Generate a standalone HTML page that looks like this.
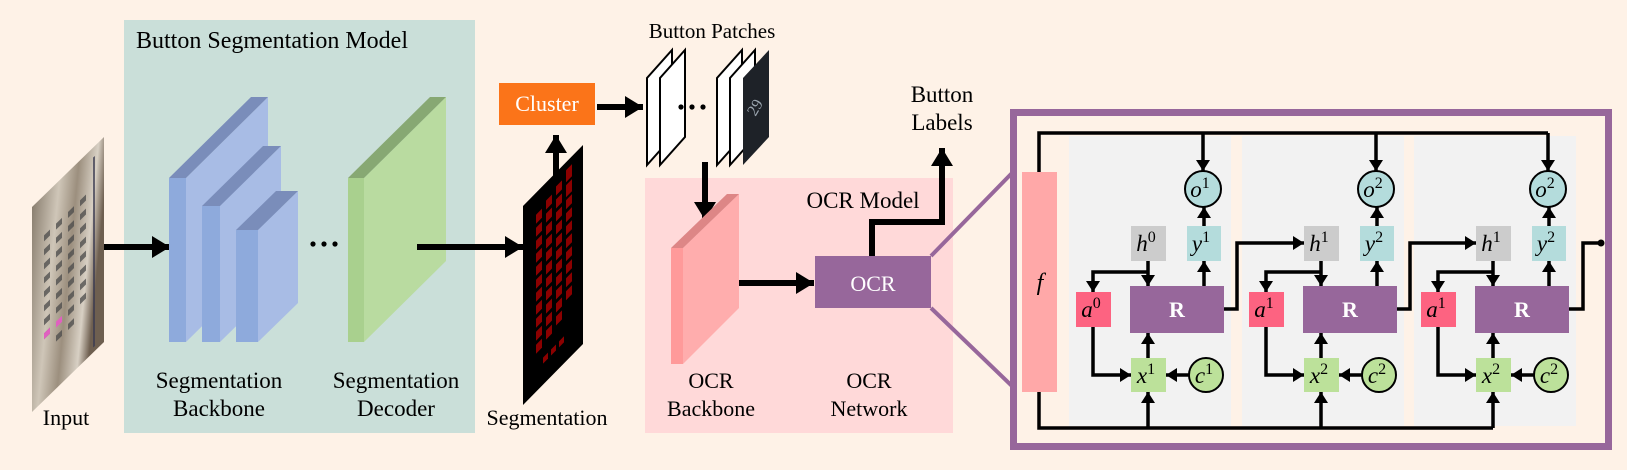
<!DOCTYPE html>
<html><head><meta charset="utf-8"><style>
html,body{margin:0;padding:0;background:#fef2e7;}
svg{display:block;}
text{font-family:"Liberation Serif","DejaVu Serif",serif;}
</style></head><body>
<svg width="1627" height="470" viewBox="0 0 1627 470" xmlns="http://www.w3.org/2000/svg" font-family="'Liberation Serif', 'DejaVu Serif', serif">
<defs>
<marker id="big" markerUnits="userSpaceOnUse" markerWidth="20" markerHeight="22" refX="18" refY="11" orient="auto"><path d="M0,0 L18,11 L0,22 z" fill="#000"/></marker>
<marker id="sm" markerUnits="userSpaceOnUse" markerWidth="12" markerHeight="14" refX="11" refY="7" orient="auto"><path d="M0,0 L11,7 L0,14 z" fill="#000"/></marker>
<linearGradient id="steel" x1="0" y1="0" x2="1" y2="0.3">
<stop offset="0" stop-color="#8a7f70"/><stop offset="0.35" stop-color="#cfc6b8"/><stop offset="0.6" stop-color="#9c8f7e"/><stop offset="0.85" stop-color="#d8d0c4"/><stop offset="1" stop-color="#6e5f50"/></linearGradient>
</defs>
<rect width="1627" height="470" fill="#fef2e7"/>

<rect x="124" y="20" width="351" height="413" fill="#cadfd9"/>
<text x="136" y="48" font-size="24">Button Segmentation Model</text>

<g transform="matrix(1,-0.972,0,1,32,207)">
<rect x="0" y="0" width="72" height="205" fill="url(#steel)"/>
<g fill="#4a4a4a" opacity="0.75">
<rect x="12" y="40" width="6" height="6"/><rect x="24" y="40" width="6" height="6"/><rect x="36" y="40" width="6" height="6"/><rect x="48" y="40" width="6" height="6"/>
<rect x="12" y="54" width="6" height="6"/><rect x="24" y="54" width="6" height="6"/><rect x="36" y="54" width="6" height="6"/><rect x="48" y="54" width="6" height="6"/>
<rect x="12" y="68" width="6" height="6"/><rect x="24" y="68" width="6" height="6"/><rect x="36" y="68" width="6" height="6"/><rect x="48" y="68" width="6" height="6"/>
<rect x="12" y="82" width="6" height="6"/><rect x="24" y="82" width="6" height="6"/><rect x="36" y="82" width="6" height="6"/><rect x="48" y="82" width="6" height="6"/>
<rect x="12" y="96" width="6" height="6"/><rect x="24" y="96" width="6" height="6"/><rect x="36" y="96" width="6" height="6"/><rect x="48" y="96" width="6" height="6"/>
<rect x="12" y="110" width="6" height="6"/><rect x="24" y="110" width="6" height="6"/><rect x="36" y="110" width="6" height="6"/><rect x="48" y="110" width="6" height="6"/>
<rect x="12" y="124" width="6" height="6"/><rect x="24" y="124" width="6" height="6"/><rect x="36" y="124" width="6" height="6"/><rect x="48" y="124" width="6" height="6"/>
<rect x="12" y="138" width="6" height="6"/><rect x="36" y="138" width="6" height="6"/><rect x="48" y="138" width="6" height="6"/>
<rect x="24" y="152" width="6" height="6"/><rect x="36" y="152" width="6" height="6"/>
</g>
<rect x="12" y="138" width="6" height="6" fill="#e060c0"/><rect x="24" y="138" width="6" height="6" fill="#e060c0"/>
<line x1="62" y1="10" x2="62" y2="200" stroke="#3a3a50" stroke-width="1.5"/>
</g>
<text x="66" y="425" font-size="22" text-anchor="middle">Input</text>
<line x1="104" y1="247" x2="170" y2="247" stroke="#000" stroke-width="6" marker-end="url(#big)"/>

<g>
<polygon points="186,178 268,97 268,261 186,342" fill="#a8bce5"/>
<polygon points="169,178 251,97 268,97 186,178" fill="#7a8dba"/>
<rect x="169" y="178" width="17" height="164" fill="#8eaadc"/>
<polygon points="220,206 281,146 281,282 220,342" fill="#a8bce5"/>
<polygon points="202,206 263,146 281,146 220,206" fill="#7a8dba"/>
<rect x="202" y="206" width="18" height="136" fill="#8eaadc"/>
<polygon points="258,230 298,191 298,303 258,342" fill="#a8bce5"/>
<polygon points="236,230 276,191 298,191 258,230" fill="#7a8dba"/>
<rect x="236" y="230" width="22" height="112" fill="#8eaadc"/>
</g>
<circle cx="313" cy="244" r="2.6"/><circle cx="324" cy="244" r="2.6"/><circle cx="335" cy="244" r="2.6"/>
<polygon points="364,178 446,97 446,261 364,342" fill="#b9dba0"/>
<polygon points="348,178 430,97 446,97 364,178" fill="#87a873"/>
<rect x="348" y="178" width="16" height="164" fill="#a9d08e"/>
<line x1="417" y1="247" x2="523" y2="247" stroke="#000" stroke-width="6" marker-end="url(#big)"/>

<text x="219" y="388" font-size="23" text-anchor="middle">Segmentation</text>
<text x="219" y="416" font-size="23" text-anchor="middle">Backbone</text>
<text x="396" y="388" font-size="23" text-anchor="middle">Segmentation</text>
<text x="396" y="416" font-size="23" text-anchor="middle">Decoder</text>

<g transform="matrix(1,-1.017,0,1,523,206)">
<rect x="0" y="0" width="60" height="199" fill="#000"/>
<g fill="#8b0000">
<rect x="13" y="22" width="6" height="9"/><rect x="13" y="35" width="6" height="9"/><rect x="13" y="48" width="6" height="9"/><rect x="13" y="61" width="6" height="9"/><rect x="13" y="74" width="6" height="9"/><rect x="13" y="87" width="6" height="9"/><rect x="13" y="100" width="6" height="9"/><rect x="13" y="113" width="6" height="9"/><rect x="13" y="126" width="6" height="9"/><rect x="13" y="139" width="6" height="9"/><rect x="13" y="152" width="6" height="9"/>
<rect x="23" y="18" width="6" height="9"/><rect x="23" y="31" width="6" height="9"/><rect x="23" y="44" width="6" height="9"/><rect x="23" y="57" width="6" height="9"/><rect x="23" y="70" width="6" height="9"/><rect x="23" y="83" width="6" height="9"/><rect x="23" y="96" width="6" height="9"/><rect x="23" y="109" width="6" height="9"/><rect x="23" y="122" width="6" height="9"/><rect x="23" y="135" width="6" height="9"/><rect x="23" y="148" width="6" height="9"/>
<rect x="33" y="14" width="6" height="9"/><rect x="33" y="27" width="6" height="9"/><rect x="33" y="40" width="6" height="9"/><rect x="33" y="53" width="6" height="9"/><rect x="33" y="66" width="6" height="9"/><rect x="33" y="79" width="6" height="9"/><rect x="33" y="92" width="6" height="9"/><rect x="33" y="105" width="6" height="9"/><rect x="33" y="118" width="6" height="9"/><rect x="33" y="131" width="6" height="9"/><rect x="33" y="144" width="6" height="9"/>
<rect x="43" y="8" width="6" height="12"/><rect x="43" y="23" width="6" height="12"/><rect x="43" y="38" width="6" height="9"/><rect x="43" y="51" width="6" height="9"/><rect x="43" y="64" width="6" height="9"/><rect x="43" y="77" width="6" height="9"/><rect x="43" y="90" width="6" height="9"/><rect x="43" y="103" width="6" height="9"/><rect x="43" y="116" width="6" height="9"/><rect x="43" y="129" width="6" height="9"/>
<rect x="20" y="172" width="5" height="6"/><rect x="28" y="172" width="5" height="6"/><rect x="36" y="172" width="5" height="6"/>
</g>
</g>
<text x="547" y="425" font-size="22" text-anchor="middle">Segmentation</text>
<line x1="556" y1="178" x2="556" y2="135" stroke="#000" stroke-width="6" marker-end="url(#big)"/>

<rect x="499" y="83" width="96" height="42" fill="#fb7419"/>
<text x="547" y="111" font-size="22" fill="#fff" text-anchor="middle">Cluster</text>
<line x1="597" y1="107" x2="643" y2="107" stroke="#000" stroke-width="6" marker-end="url(#big)"/>

<text x="712" y="38" font-size="21" text-anchor="middle">Button Patches</text>
<g stroke="#000" stroke-width="2" fill="#fff">
<polygon points="647,165 647,78 672,50 672,137"/>
<polygon points="660,165 660,78 685,50 685,137"/>
<polygon points="717,165 717,78 742,50 742,137"/>
<polygon points="730,165 730,78 755,50 755,137"/>
</g>
<polygon points="743,165 743,78 769,50 769,137" fill="#1e2228"/>
<text x="756" y="112" font-size="16" fill="#9aa4ae" text-anchor="middle" transform="rotate(-60 756 108)">29</text>
<circle cx="681" cy="107" r="2.6"/><circle cx="692" cy="107" r="2.6"/><circle cx="703" cy="107" r="2.6"/>

<rect x="645" y="178" width="308" height="255" fill="#ffd9d9"/>
<text x="863" y="208" font-size="23" text-anchor="middle">OCR Model</text>
<line x1="705" y1="162" x2="705" y2="220" stroke="#000" stroke-width="6" marker-end="url(#big)"/>
<polygon points="683,248 739,194 739,308 683,364" fill="#ffadad"/>
<polygon points="671,248 727,194 739,194 683,248" fill="#dd8686"/>
<rect x="671" y="248" width="12" height="116" fill="#ff9a9a"/>
<line x1="739" y1="283" x2="814" y2="283" stroke="#000" stroke-width="6" marker-end="url(#big)"/>
<rect x="815" y="256" width="116" height="52" fill="#97679b"/>
<text x="873" y="291" font-size="22" fill="#fff" text-anchor="middle">OCR</text>
<polyline points="872,256 872,222 942,222 942,148" fill="none" stroke="#000" stroke-width="6" marker-end="url(#big)"/>
<text x="942" y="102" font-size="23" text-anchor="middle">Button</text>
<text x="942" y="130" font-size="23" text-anchor="middle">Labels</text>
<text x="711" y="388" font-size="22" text-anchor="middle">OCR</text>
<text x="711" y="416" font-size="22" text-anchor="middle">Backbone</text>
<text x="869" y="388" font-size="22" text-anchor="middle">OCR</text>
<text x="869" y="416" font-size="22" text-anchor="middle">Network</text>

<line x1="931" y1="256" x2="1013" y2="172" stroke="#97679b" stroke-width="4"/>
<line x1="931" y1="308" x2="1013" y2="387" stroke="#97679b" stroke-width="4"/>
<rect x="1013.5" y="112.5" width="595" height="334" fill="#fef2e7" stroke="#97679b" stroke-width="7"/>

<rect x="1069" y="136" width="162" height="290" fill="#f2f2f2"/>
<rect x="1242" y="136" width="162" height="290" fill="#f2f2f2"/>
<rect x="1414" y="136" width="162" height="290" fill="#f2f2f2"/>

<rect x="1022" y="172" width="35" height="220" fill="#ffa8a8"/>
<text x="1040" y="290" font-size="24" font-style="italic" text-anchor="middle">f</text>
<polyline points="1039,172 1039,133 1548,133" fill="none" stroke="#000" stroke-width="3.5"/>
<polyline points="1039,392 1039,428 1493,428" fill="none" stroke="#000" stroke-width="3.5"/>

<g fill="none" stroke="#000" stroke-width="3.5">
<line x1="1203" y1="133" x2="1203" y2="171" marker-end="url(#sm)"/>
<line x1="1204" y1="226" x2="1204" y2="207" marker-end="url(#sm)"/>
<line x1="1204" y1="286" x2="1204" y2="261" marker-end="url(#sm)"/>
<line x1="1148" y1="261" x2="1148" y2="286" marker-end="url(#sm)"/>
<polyline points="1148,272 1093,272 1093,292" marker-end="url(#sm)"/>
<polyline points="1093,327 1093,375 1131,375" marker-end="url(#sm)"/>
<line x1="1189" y1="375" x2="1166" y2="375" marker-end="url(#sm)"/>
<line x1="1148" y1="358" x2="1148" y2="333" marker-end="url(#sm)"/>
<line x1="1148" y1="428" x2="1148" y2="392" marker-end="url(#sm)"/>
<polyline points="1224,309 1237,309 1237,243 1304,243" marker-end="url(#sm)"/>

<line x1="1376" y1="133" x2="1376" y2="171" marker-end="url(#sm)"/>
<line x1="1377" y1="226" x2="1377" y2="207" marker-end="url(#sm)"/>
<line x1="1377" y1="286" x2="1377" y2="261" marker-end="url(#sm)"/>
<line x1="1321" y1="261" x2="1321" y2="286" marker-end="url(#sm)"/>
<polyline points="1321,272 1266,272 1266,292" marker-end="url(#sm)"/>
<polyline points="1266,327 1266,375 1304,375" marker-end="url(#sm)"/>
<line x1="1362" y1="375" x2="1339" y2="375" marker-end="url(#sm)"/>
<line x1="1321" y1="358" x2="1321" y2="333" marker-end="url(#sm)"/>
<line x1="1321" y1="428" x2="1321" y2="392" marker-end="url(#sm)"/>
<polyline points="1397,309 1410,309 1410,243 1476,243" marker-end="url(#sm)"/>

<line x1="1548" y1="133" x2="1548" y2="171" marker-end="url(#sm)"/>
<line x1="1549" y1="226" x2="1549" y2="207" marker-end="url(#sm)"/>
<line x1="1549" y1="286" x2="1549" y2="261" marker-end="url(#sm)"/>
<line x1="1493" y1="261" x2="1493" y2="286" marker-end="url(#sm)"/>
<polyline points="1493,272 1438,272 1438,292" marker-end="url(#sm)"/>
<polyline points="1438,327 1438,375 1476,375" marker-end="url(#sm)"/>
<line x1="1534" y1="375" x2="1511" y2="375" marker-end="url(#sm)"/>
<line x1="1493" y1="358" x2="1493" y2="333" marker-end="url(#sm)"/>
<line x1="1493" y1="428" x2="1493" y2="392" marker-end="url(#sm)"/>
<polyline points="1569,309 1583,309 1583,243 1600,243"/>
</g>
<circle cx="1601" cy="243" r="3.5"/>

<g font-size="23" font-style="italic" text-anchor="middle">
<circle cx="1203" cy="189" r="18" fill="#b4dcdc" stroke="#000" stroke-width="2"/>
<text x="1200" y="197">o<tspan font-size="16" dy="-9" font-style="normal">1</tspan></text>
<rect x="1187" y="226" width="34" height="35" fill="#b4dcdc"/>
<text x="1201" y="251">y<tspan font-size="16" dy="-9" font-style="normal">1</tspan></text>
<rect x="1131" y="226" width="35" height="35" fill="#cccccc"/>
<text x="1146" y="251">h<tspan font-size="16" dy="-9" font-style="normal">0</tspan></text>
<rect x="1076" y="292" width="35" height="35" fill="#fd6381"/>
<text x="1091" y="317">a<tspan font-size="16" dy="-9" font-style="normal">0</tspan></text>
<rect x="1131" y="358" width="35" height="34" fill="#bce19a"/>
<text x="1146" y="383">x<tspan font-size="16" dy="-9" font-style="normal">1</tspan></text>
<circle cx="1206" cy="375" r="17" fill="#bce19a" stroke="#000" stroke-width="2"/>
<text x="1204" y="383">c<tspan font-size="16" dy="-9" font-style="normal">1</tspan></text>

<circle cx="1376" cy="189" r="18" fill="#b4dcdc" stroke="#000" stroke-width="2"/>
<text x="1373" y="197">o<tspan font-size="16" dy="-9" font-style="normal">2</tspan></text>
<rect x="1360" y="226" width="34" height="35" fill="#b4dcdc"/>
<text x="1374" y="251">y<tspan font-size="16" dy="-9" font-style="normal">2</tspan></text>
<rect x="1304" y="226" width="35" height="35" fill="#cccccc"/>
<text x="1319" y="251">h<tspan font-size="16" dy="-9" font-style="normal">1</tspan></text>
<rect x="1249" y="292" width="35" height="35" fill="#fd6381"/>
<text x="1264" y="317">a<tspan font-size="16" dy="-9" font-style="normal">1</tspan></text>
<rect x="1304" y="358" width="35" height="34" fill="#bce19a"/>
<text x="1319" y="383">x<tspan font-size="16" dy="-9" font-style="normal">2</tspan></text>
<circle cx="1379" cy="375" r="17" fill="#bce19a" stroke="#000" stroke-width="2"/>
<text x="1377" y="383">c<tspan font-size="16" dy="-9" font-style="normal">2</tspan></text>

<circle cx="1548" cy="189" r="18" fill="#b4dcdc" stroke="#000" stroke-width="2"/>
<text x="1545" y="197">o<tspan font-size="16" dy="-9" font-style="normal">2</tspan></text>
<rect x="1532" y="226" width="34" height="35" fill="#b4dcdc"/>
<text x="1546" y="251">y<tspan font-size="16" dy="-9" font-style="normal">2</tspan></text>
<rect x="1476" y="226" width="35" height="35" fill="#cccccc"/>
<text x="1491" y="251">h<tspan font-size="16" dy="-9" font-style="normal">1</tspan></text>
<rect x="1421" y="292" width="35" height="35" fill="#fd6381"/>
<text x="1436" y="317">a<tspan font-size="16" dy="-9" font-style="normal">1</tspan></text>
<rect x="1476" y="358" width="35" height="34" fill="#bce19a"/>
<text x="1491" y="383">x<tspan font-size="16" dy="-9" font-style="normal">2</tspan></text>
<circle cx="1551" cy="375" r="17" fill="#bce19a" stroke="#000" stroke-width="2"/>
<text x="1549" y="383">c<tspan font-size="16" dy="-9" font-style="normal">2</tspan></text>
</g>
<g font-size="22" font-weight="bold" fill="#fff" text-anchor="middle">
<rect x="1130" y="286" width="94" height="47" fill="#97679b"/>
<text x="1177" y="317">R</text>
<rect x="1303" y="286" width="94" height="47" fill="#97679b"/>
<text x="1350" y="317">R</text>
<rect x="1475" y="286" width="94" height="47" fill="#97679b"/>
<text x="1522" y="317">R</text>
</g>
</svg>
</body></html>
